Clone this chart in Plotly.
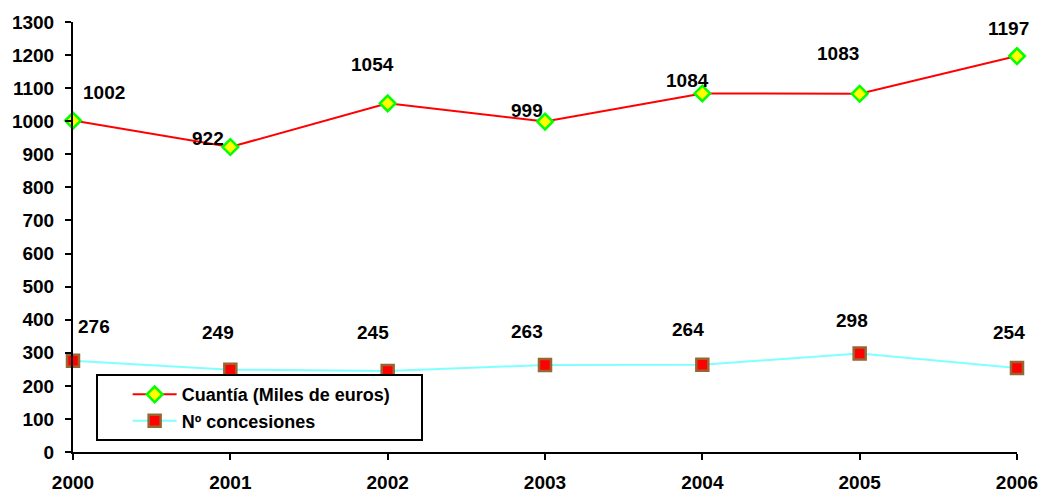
import plotly.graph_objects as go

years = [2000, 2001, 2002, 2003, 2004, 2005, 2006]
cuantia = [1002, 922, 1054, 999, 1084, 1083, 1197]
concesiones = [276, 249, 245, 263, 264, 298, 254]
y_ticks = list(range(0, 1301, 100))

# label offsets in px (style, not data)
off_c = [(31, 28), (-22, 9), (-15, 39), (-18, 11), (-15, 13), (-22, 40), (-9, 28)]
off_n = [(21, 34), (-12, 37), (-15, 38), (-18, 34), (-14, 35), (-8, 33), (-8, 35)]

FONT = "Liberation Sans, Arial, sans-serif"
PAD = "\u00a0" * 5  # widens the legend box to match the reference

fig = go.Figure()
fig.add_trace(go.Scatter(
    x=years, y=cuantia, name="Cuantía (Miles de euros)" + PAD, mode="lines+markers",
    line=dict(color="#FF0000", width=2),
    marker=dict(symbol="diamond", size=12, color="#FFFF00", line=dict(color="#00FF00", width=2.5)),
    cliponaxis=False,
))
fig.add_trace(go.Scatter(
    x=years, y=concesiones, name="Nº concesiones", mode="lines+markers",
    line=dict(color="#80FFFF", width=2),
    marker=dict(symbol="square", size=12, color="#FF0000", line=dict(color="#996633", width=2.5)),
    cliponaxis=False,
))

for xv, yv, (dx, dy) in zip(years, cuantia, off_c):
    fig.add_annotation(x=xv, y=yv, text=str(yv), showarrow=False, xshift=dx, yshift=dy,
                       font=dict(family=FONT, size=19, color="black", weight="bold"))
for xv, yv, (dx, dy) in zip(years, concesiones, off_n):
    fig.add_annotation(x=xv, y=yv, text=str(yv), showarrow=False, xshift=dx, yshift=dy,
                       font=dict(family=FONT, size=19, color="black", weight="bold"))

fig.update_layout(
    width=1044, height=493,
    margin=dict(l=73, r=27, t=22, b=41, autoexpand=False),
    plot_bgcolor="white", paper_bgcolor="white",
    font=dict(family=FONT, color="black"),
    showlegend=True,
    legend=dict(x=0.024, y=0.181, xanchor="left", yanchor="top",
                bordercolor="black", borderwidth=2, bgcolor="white",
                indentation=30, itemwidth=44,
                font=dict(family=FONT, size=18, weight="bold"),
                ),
    xaxis=dict(range=[2000, 2006], tickvals=years, ticktext=[str(y) for y in years],
               automargin=False, ticklabelstandoff=6,
               showgrid=False, zeroline=False, showline=True, linecolor="black", linewidth=2,
               ticks="outside", ticklen=6, tickwidth=2, tickcolor="black",
               tickfont=dict(family=FONT, size=19, weight="bold")),
    yaxis=dict(range=[0, 1300], tickvals=y_ticks, automargin=False, ticklabelstandoff=7,
               showgrid=False, zeroline=False, showline=True, linecolor="black", linewidth=2,
               ticks="outside", ticklen=6, tickwidth=2, tickcolor="black",
               tickfont=dict(family=FONT, size=19, weight="bold")),
)

fig.write_html("out.html", config={"displayModeBar": False},
               post_script="document.body.style.margin='0';document.body.style.overflow='hidden';")
